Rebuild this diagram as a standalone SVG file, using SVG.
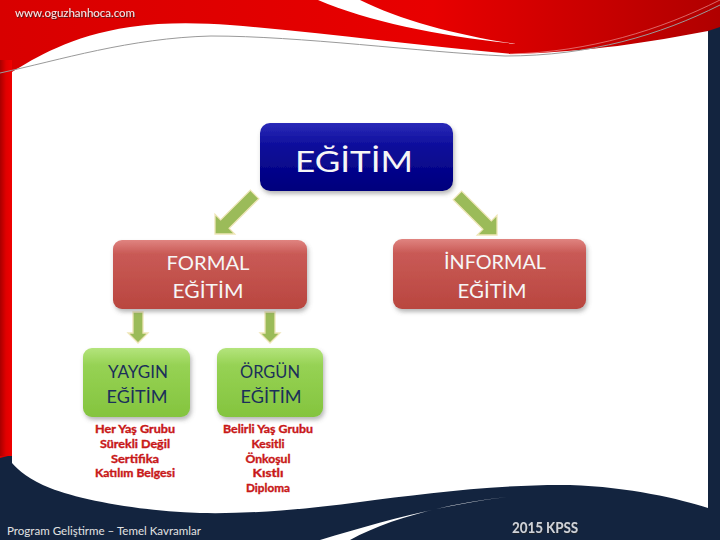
<svg xmlns="http://www.w3.org/2000/svg" width="720" height="540" viewBox="0 0 720 540">
<defs>
<linearGradient id="gRed" x1="0" y1="0" x2="1" y2="0">
<stop offset="0" stop-color="#d80000"/>
<stop offset="0.6" stop-color="#e80000"/>
<stop offset="1" stop-color="#b00000"/>
</linearGradient>
<linearGradient id="gStrip" x1="0" y1="0" x2="1" y2="0">
<stop offset="0" stop-color="#a80000"/>
<stop offset="0.5" stop-color="#e00000"/>
<stop offset="1" stop-color="#f00000"/>
</linearGradient>
<linearGradient id="gBlue" x1="0" y1="0" x2="0" y2="1">
<stop offset="0" stop-color="#2a2ab8"/>
<stop offset="0.35" stop-color="#0c0c9a"/>
<stop offset="1" stop-color="#00007c"/>
</linearGradient>
<linearGradient id="gRedBox" x1="0" y1="0" x2="0" y2="1">
<stop offset="0" stop-color="#e08480"/>
<stop offset="0.2" stop-color="#c95a56"/>
<stop offset="1" stop-color="#b9463f"/>
</linearGradient>
<linearGradient id="gGreen" x1="0" y1="0" x2="0" y2="1">
<stop offset="0" stop-color="#b4e47c"/>
<stop offset="0.25" stop-color="#96d254"/>
<stop offset="1" stop-color="#84c43e"/>
</linearGradient>
<filter id="shadow" x="-10%" y="-10%" width="125%" height="135%">
<feDropShadow dx="1.5" dy="3" stdDeviation="2" flood-color="#606060" flood-opacity="0.45"/>
</filter>
<filter id="tshadow" x="-5%" y="-30%" width="110%" height="160%">
<feDropShadow dx="1" dy="1" stdDeviation="0.4" flood-color="#202020" flood-opacity="0.7"/>
</filter>
<path id="arrV" d="M0,0 L-10,-10 L-5,-10 L-5,-31 L5,-31 L5,-10 L10,-10 Z"/>
<path id="arrD" d="M0,0 L-14,-14 L-6,-14 L-6,-56 L6,-56 L6,-14 L14,-14 Z"/>
<style>
.lbl{font-family:Lato,"Liberation Sans",sans-serif;text-anchor:middle}
.box-t{fill:#f6f6f6}
.green-t{fill:#1b2f5a}
.sub{font-family:Lato,"Liberation Sans",sans-serif;font-weight:bold;font-size:11px;fill:#c81818;text-anchor:middle;stroke:#c81818;stroke-width:0.35}
.arr{fill:#9bbb59;stroke:#efe6b8;stroke-width:1.3;stroke-linejoin:miter}
</style>
</defs>

<g id="background">
<rect width="720" height="540" fill="#13243f"/>
<path d="M0,0 H720 V27 L708,31 L708,40 L12,300 L12,455 L0,458 Z" fill="url(#gRed)"/>
<rect x="0" y="60" width="12" height="396" fill="url(#gStrip)"/>
<path d="M12,72 C35,58 70,36 130,27 C165,22 200,23 230,25 C320,32 420,46 512,54 C590,52 650,42 708,31 L708,508 C680,499 630,487 570,485 C500,484 420,494 360,502 C300,510 250,514 200,513 C140,511 80,500 50,488 C30,480 18,470 12,463 Z" fill="#ffffff"/>
<path d="M0,73 C60,60 130,38 211,36 C300,36 420,52 505,56 C590,56 660,35 720,5" fill="none" stroke="#9a9a9a" stroke-width="1"/>
<path d="M510,54 C590,52 660,30 720,0" fill="none" stroke="#f0a0a0" stroke-width="0.8" opacity="0.8"/>
<path d="M318,0 C370,22 440,36 516,44 C460,36 400,20 360,0 Z" fill="#ffffff"/>
<path d="M320,540 C380,522 440,505 507,497 C450,503 390,518 350,540 Z" fill="#ffffff"/>
</g>

<g id="header-footer">
<text x="15" y="17" font-family="Lato,'Liberation Sans',sans-serif" font-size="11" fill="#f4e8e8" textLength="120" lengthAdjust="spacingAndGlyphs" filter="url(#tshadow)">www.oguzhanhoca.com</text>
<text x="7" y="535" font-family="Lato,'Liberation Sans',sans-serif" font-size="11" fill="#e2e2e2" textLength="194" lengthAdjust="spacingAndGlyphs">Program Geliştirme – Temel Kavramlar</text>
<text x="512" y="533" font-family="Lato,'Liberation Sans',sans-serif" font-size="15" font-weight="bold" fill="#cfd2d8" textLength="66" lengthAdjust="spacingAndGlyphs" filter="url(#tshadow)">2015 KPSS</text>
</g>

<g id="connectors">
<use href="#arrD" class="arr" transform="translate(215,234) rotate(45)"/>
<use href="#arrD" class="arr" transform="translate(497,235) rotate(-45)"/>
<use href="#arrV" class="arr" transform="translate(138,343)"/>
<use href="#arrV" class="arr" transform="translate(270,343)"/>
</g>

<g id="node-egitim">
<rect x="260" y="123" width="193" height="68" rx="10" fill="url(#gBlue)" filter="url(#shadow)"/>
<text class="lbl box-t" x="354" y="172" font-size="29" fill="#ffffff" textLength="118" lengthAdjust="spacingAndGlyphs">EĞİTİM</text>
</g>

<g id="node-formal">
<rect x="113" y="240" width="194" height="69" rx="9" fill="url(#gRedBox)" filter="url(#shadow)"/>
<text class="lbl box-t" x="208" y="270" font-size="19" textLength="83" lengthAdjust="spacingAndGlyphs">FORMAL</text>
<text class="lbl box-t" x="208" y="298" font-size="19" textLength="71" lengthAdjust="spacingAndGlyphs">EĞİTİM</text>
</g>

<g id="node-informal">
<rect x="393" y="239" width="193" height="70" rx="9" fill="url(#gRedBox)" filter="url(#shadow)"/>
<text class="lbl box-t" x="495" y="269" font-size="19" textLength="102" lengthAdjust="spacingAndGlyphs">İNFORMAL</text>
<text class="lbl box-t" x="492" y="298" font-size="19" textLength="69" lengthAdjust="spacingAndGlyphs">EĞİTİM</text>
</g>

<g id="node-yaygin">
<rect x="83" y="348" width="107" height="69" rx="9" fill="url(#gGreen)" filter="url(#shadow)"/>
<text class="lbl green-t" x="138" y="378" font-size="18" textLength="60" lengthAdjust="spacingAndGlyphs">YAYGIN</text>
<text class="lbl green-t" x="137" y="403" font-size="18" textLength="61" lengthAdjust="spacingAndGlyphs">EĞİTİM</text>
</g>

<g id="node-orgun">
<rect x="217" y="348" width="106" height="69" rx="9" fill="url(#gGreen)" filter="url(#shadow)"/>
<text class="lbl green-t" x="270" y="378" font-size="18" textLength="60" lengthAdjust="spacingAndGlyphs">ÖRGÜN</text>
<text class="lbl green-t" x="271" y="403" font-size="18" textLength="61" lengthAdjust="spacingAndGlyphs">EĞİTİM</text>
</g>

<g id="yaygin-notes">
<text class="sub" x="135" y="433" textLength="80" lengthAdjust="spacingAndGlyphs">Her Yaş Grubu</text>
<text class="sub" x="135" y="448" textLength="70" lengthAdjust="spacingAndGlyphs">Sürekli Değil</text>
<text class="sub" x="135" y="463" textLength="48" lengthAdjust="spacingAndGlyphs">Sertifika</text>
<text class="sub" x="135" y="477" textLength="80" lengthAdjust="spacingAndGlyphs">Katılım Belgesi</text>
</g>

<g id="orgun-notes">
<text class="sub" x="268" y="433" textLength="90" lengthAdjust="spacingAndGlyphs">Belirli Yaş Grubu</text>
<text class="sub" x="268" y="448" textLength="33" lengthAdjust="spacingAndGlyphs">Kesitli</text>
<text class="sub" x="268" y="463" textLength="45" lengthAdjust="spacingAndGlyphs">Önkoşul</text>
<text class="sub" x="268" y="477" textLength="31" lengthAdjust="spacingAndGlyphs">Kıstlı</text>
<text class="sub" x="268" y="492" textLength="44" lengthAdjust="spacingAndGlyphs">Diploma</text>
</g>
</svg>
